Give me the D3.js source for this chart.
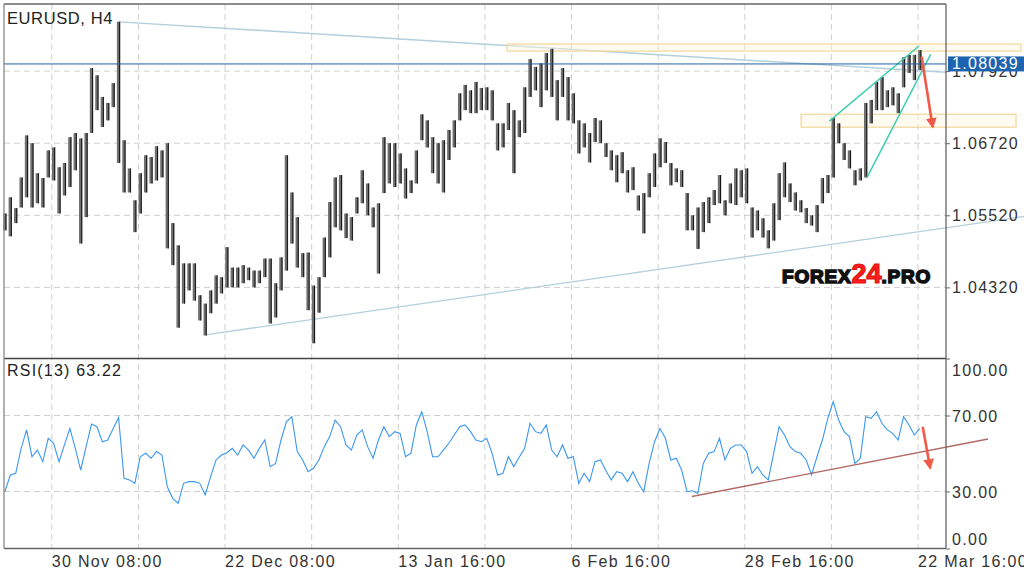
<!DOCTYPE html>
<html>
<head>
<meta charset="utf-8">
<script src="https://cdn.jsdelivr.net/npm/d3@7"></script>
<style>
  body { margin: 0; background: #fff; }
  text { font-family: "Liberation Sans", Arial, sans-serif; }
</style>
</head>
<body>
<div id="chart"></div>
<script>
// EURUSD H4 - one stored bar every 3 H4 bars (12h)
const barStep = 3;

const highs = [
  1.0555, 1.0582, 1.0564, 1.0615, 1.0685, 1.0672, 1.0622, 1.0614, 1.0660, 1.0665,
  1.0632, 1.0639, 1.0682, 1.0689, 1.0680, 1.0689, 1.0797, 1.0785, 1.0749, 1.0739,
  1.0772, 1.0874, 1.0677, 1.0630, 1.0577, 1.0622, 1.0652, 1.0649, 1.0667, 1.0660,
  1.0672, 1.0539, 1.0502, 1.0472, 1.0472, 1.0472, 1.0419, 1.0405, 1.0427, 1.0452,
  1.0449, 1.0499, 1.0465, 1.0465, 1.0469, 1.0465, 1.0460, 1.0460, 1.0480, 1.0480,
  1.0439, 1.0482, 1.0652, 1.0590, 1.0549, 1.0489, 1.0490, 1.0435, 1.0449, 1.0515,
  1.0574, 1.0615, 1.0619, 1.0555, 1.0549, 1.0582, 1.0627, 1.0605, 1.0565, 1.0572,
  1.0682, 1.0672, 1.0672, 1.0655, 1.0630, 1.0610, 1.0660, 1.0720, 1.0710, 1.0682,
  1.0672, 1.0677, 1.0694, 1.0710, 1.0755, 1.0769, 1.0760, 1.0774, 1.0764, 1.0765,
  1.0760, 1.0705, 1.0705, 1.0739, 1.0727, 1.0710, 1.0765, 1.0812, 1.0799, 1.0805,
  1.0822, 1.0829, 1.0777, 1.0797, 1.0782, 1.0755, 1.0710, 1.0705, 1.0689, 1.0714,
  1.0710, 1.0672, 1.0660, 1.0652, 1.0657, 1.0627, 1.0632, 1.0585, 1.0589, 1.0622,
  1.0655, 1.0680, 1.0674, 1.0639, 1.0630, 1.0627, 1.0589, 1.0552, 1.0565, 1.0574,
  1.0582, 1.0594, 1.0619, 1.0577, 1.0605, 1.0630, 1.0627, 1.0630, 1.0565, 1.0560,
  1.0547, 1.0527, 1.0572, 1.0622, 1.0640, 1.0605, 1.0590, 1.0577, 1.0564, 1.0552,
  1.0569, 1.0614, 1.0619, 1.0714, 1.0705, 1.0672, 1.0660, 1.0627, 1.0630, 1.0739,
  1.0744, 1.0774, 1.0782, 1.0760, 1.0765, 1.0755, 1.0815, 1.0819, 1.0819, 1.0827
];

const lows = [
  1.0527, 1.0517, 1.0539, 1.0565, 1.0582, 1.0565, 1.0572, 1.0565, 1.0615, 1.0610,
  1.0555, 1.0585, 1.0599, 1.0627, 1.0505, 1.0549, 1.0689, 1.0727, 1.0699, 1.0710,
  1.0732, 1.0639, 1.0590, 1.0590, 1.0524, 1.0555, 1.0590, 1.0605, 1.0610, 1.0615,
  1.0497, 1.0469, 1.0365, 1.0405, 1.0427, 1.0410, 1.0377, 1.0352, 1.0389, 1.0405,
  1.0422, 1.0432, 1.0432, 1.0432, 1.0439, 1.0444, 1.0432, 1.0439, 1.0449, 1.0372,
  1.0382, 1.0427, 1.0460, 1.0505, 1.0465, 1.0449, 1.0394, 1.0339, 1.0390, 1.0449,
  1.0482, 1.0532, 1.0527, 1.0514, 1.0510, 1.0555, 1.0572, 1.0552, 1.0532, 1.0455,
  1.0589, 1.0605, 1.0599, 1.0605, 1.0580, 1.0589, 1.0605, 1.0677, 1.0665, 1.0622,
  1.0605, 1.0590, 1.0644, 1.0665, 1.0710, 1.0727, 1.0722, 1.0722, 1.0727, 1.0727,
  1.0710, 1.0660, 1.0665, 1.0694, 1.0622, 1.0682, 1.0689, 1.0749, 1.0760, 1.0732,
  1.0760, 1.0749, 1.0710, 1.0749, 1.0710, 1.0705, 1.0655, 1.0665, 1.0640, 1.0674,
  1.0672, 1.0649, 1.0627, 1.0607, 1.0622, 1.0590, 1.0594, 1.0560, 1.0522, 1.0582,
  1.0599, 1.0632, 1.0639, 1.0602, 1.0607, 1.0599, 1.0527, 1.0527, 1.0496, 1.0524,
  1.0539, 1.0569, 1.0572, 1.0552, 1.0572, 1.0569, 1.0582, 1.0572, 1.0515, 1.0527,
  1.0515, 1.0497, 1.0510, 1.0544, 1.0582, 1.0574, 1.0560, 1.0557, 1.0539, 1.0535,
  1.0524, 1.0572, 1.0589, 1.0615, 1.0672, 1.0644, 1.0630, 1.0602, 1.0610, 1.0615,
  1.0705, 1.0727, 1.0727, 1.0732, 1.0735, 1.0722, 1.0765, 1.0789, 1.0777, 1.0794
];

const rsiValues = [
  29.9, 38.7, 39.6, 52.7, 62.4, 48.3, 51.8, 45.7, 58.0, 55.4,
  45.7, 54.5, 63.2, 52.7, 41.3, 53.6, 65.5, 64.1, 56.2, 57.1,
  63.2, 69.0, 36.9, 36.1, 34.3, 48.3, 50.1, 47.5, 51.0, 49.2,
  32.5, 26.4, 23.8, 34.3, 35.2, 35.2, 34.3, 28.2, 37.8, 46.6,
  49.2, 50.4, 52.7, 49.2, 54.5, 51.8, 47.5, 52.7, 57.1, 43.1,
  44.8, 57.1, 66.7, 69.4, 51.0, 46.6, 40.4, 42.2, 46.6, 53.6,
  58.9, 67.6, 64.1, 54.5, 51.8, 59.7, 62.4, 53.6, 47.5, 57.1,
  64.1, 58.9, 61.5, 60.6, 48.3, 50.1, 65.0, 72.0, 61.5, 48.3,
  48.3, 51.8, 55.4, 59.7, 64.1, 65.0, 61.5, 57.1, 56.2, 58.0,
  50.1, 38.7, 39.6, 48.3, 43.1, 48.0, 52.7, 65.9, 61.5, 60.6,
  65.0, 51.8, 48.3, 54.5, 47.5, 48.3, 34.3, 39.6, 35.2, 45.7,
  46.6, 41.0, 36.1, 40.4, 39.6, 35.2, 40.4, 34.3, 29.9, 44.8,
  56.2, 63.2, 58.0, 46.6, 47.5, 41.3, 29.9, 30.4, 29.0, 44.8,
  50.1, 51.0, 58.0, 46.6, 52.7, 54.5, 54.5, 51.0, 39.6, 43.1,
  38.7, 36.1, 50.1, 64.1, 59.7, 53.6, 51.0, 50.1, 46.6, 38.7,
  48.3, 57.1, 68.5, 77.3, 67.6, 61.5, 58.9, 44.8, 47.5, 69.4,
  68.5, 72.0, 65.9, 62.4, 60.6, 57.1, 69.4, 65.0, 59.7, 63.2
];

// time axis (H4 bar index) and tick labels
const gridBars = [26, 74, 122, 170, 218, 266, 314, 362, 410, 458, 506];
const labelBars = [26, 122, 218, 314, 410, 506];
const labelTexts = ["30 Nov 08:00", "22 Dec 08:00", "13 Jan 16:00", "6 Feb 16:00", "28 Feb 16:00", "22 Mar 16:00"];

const priceTicks = [1.0792, 1.0672, 1.0552, 1.0432];
const rsiTicks = [100, 70, 30, 0];
const rsiGrid = [70, 30];

const lastPrice = 1.08039;
const rsiLabel = "RSI(13) 63.22";
const title = "EURUSD, H4";

// drawn objects (bar index, price)
const blueTrends = [
  [[63.2, 1.0874], [521.5, 1.0790]],
  [[111.2, 1.0353], [564.7, 1.0550]]
];
const wedgeLines = [
  [[456.8, 1.07087], [506.5, 1.08337]],
  [[477.6, 1.06142], [513.0, 1.08198]]
];
const zones = [
  { b0: 278.2, b1: 563.0, top: 1.08370, bottom: 1.08253 },
  { b0: 441.2, b1: 560.3, top: 1.07203, bottom: 1.06986 }
];
const priceArrow = [[508.0, 1.08158], [514.1, 1.06995]];
const rsiTrend = [[380.7, 27.4], [544.8, 57.6]];
const rsiArrow = [[508.6, 64.1], [512.7, 42.5]];

// layout
const W = 1024, H = 577;
const left = 4, right = 946, mainTop = 4, mainBottom = 358.5, rsiTop = 358.5, rsiBottom = 548.5;

const svg = d3.select("#chart").append("svg")
  .attr("width", W).attr("height", H);

const defs = svg.append("defs");
defs.append("marker")
  .attr("id", "head")
  .attr("viewBox", "0 0 10 10")
  .attr("refX", 8).attr("refY", 5)
  .attr("markerWidth", 4.2).attr("markerHeight", 4.2)
  .attr("orient", "auto")
  .append("path").attr("d", "M0,0 L10,5 L0,10 Z").attr("fill", "#f25a48");

const x = d3.scaleLinear().domain([-0.5, 521.5]).range([left, right]);
const y = d3.scaleLinear().domain([1.031367, 1.090367]).range([mainBottom, mainTop]);
const yr = d3.scaleLinear().domain([0, 100]).range([rsiBottom, rsiTop]);

// grid
const grid = svg.append("g").attr("stroke", "#cfcfcf").attr("stroke-dasharray", "6,4").attr("stroke-width", 1);
grid.selectAll(".vg").data(gridBars).enter().append("line")
  .attr("x1", d => x(d)).attr("x2", d => x(d))
  .attr("y1", mainTop).attr("y2", rsiBottom);
grid.selectAll(".hg").data(priceTicks).enter().append("line")
  .attr("x1", left).attr("x2", right)
  .attr("y1", d => y(d)).attr("y2", d => y(d));
grid.selectAll(".rg").data(rsiGrid).enter().append("line")
  .attr("x1", left).attr("x2", right)
  .attr("y1", d => yr(d)).attr("y2", d => yr(d));

// blue trend lines under bars
svg.append("g").selectAll("line").data(blueTrends).enter().append("line")
  .attr("x1", d => x(d[0][0])).attr("y1", d => y(d[0][1]))
  .attr("x2", d => x(d[1][0])).attr("y2", d => y(d[1][1]))
  .attr("stroke", "#b3cfdc").attr("stroke-width", 1.4);

// zones
svg.append("g").selectAll("rect").data(zones).enter().append("rect")
  .attr("x", d => x(d.b0)).attr("width", d => x(d.b1) - x(d.b0))
  .attr("y", d => y(d.top)).attr("height", d => y(d.bottom) - y(d.top))
  .attr("fill", "#fff6e0").attr("fill-opacity", 0.45)
  .attr("stroke", "#f3d9a0").attr("stroke-width", 1.3);

// bars : grey body + dark wick
const bars = svg.append("g");
bars.selectAll("line").data(highs).enter().append("line")
  .attr("x1", (d, i) => x(i * barStep)).attr("x2", (d, i) => x(i * barStep))
  .attr("y1", d => y(d)).attr("y2", (d, i) => y(lows[i]))
  .attr("stroke", "#707070").attr("stroke-width", 3.4);
bars.selectAll(".wick").data(highs).enter().append("line")
  .attr("x1", (d, i) => x(i * barStep) + 1).attr("x2", (d, i) => x(i * barStep) + 1)
  .attr("y1", d => y(d)).attr("y2", (d, i) => y(lows[i]))
  .attr("stroke", "#151515").attr("stroke-width", 1);

// wedge
svg.append("g").selectAll("line").data(wedgeLines).enter().append("line")
  .attr("x1", d => x(d[0][0])).attr("y1", d => y(d[0][1]))
  .attr("x2", d => x(d[1][0])).attr("y2", d => y(d[1][1]))
  .attr("stroke", "#3fcdb4").attr("stroke-width", 1.5);

// last price line
svg.append("line")
  .attr("x1", left).attr("x2", right)
  .attr("y1", y(lastPrice)).attr("y2", y(lastPrice))
  .attr("stroke", "#22609f").attr("stroke-width", 1);

// arrows
svg.append("line")
  .attr("x1", x(priceArrow[0][0])).attr("y1", y(priceArrow[0][1]))
  .attr("x2", x(priceArrow[1][0])).attr("y2", y(priceArrow[1][1]))
  .attr("stroke", "#f25a48").attr("stroke-width", 2.6).attr("marker-end", "url(#head)");

// RSI
const rsiLine = d3.line()
  .x((d, i) => x(i * barStep))
  .y(d => yr(d));
svg.append("path").datum(rsiValues)
  .attr("d", rsiLine)
  .attr("fill", "none").attr("stroke", "#3a97f2").attr("stroke-width", 1.1);

svg.append("line")
  .attr("x1", x(rsiTrend[0][0])).attr("y1", yr(rsiTrend[0][1]))
  .attr("x2", x(rsiTrend[1][0])).attr("y2", yr(rsiTrend[1][1]))
  .attr("stroke", "#b26a66").attr("stroke-width", 1.4);

svg.append("line")
  .attr("x1", x(rsiArrow[0][0])).attr("y1", yr(rsiArrow[0][1]))
  .attr("x2", x(rsiArrow[1][0])).attr("y2", yr(rsiArrow[1][1]))
  .attr("stroke", "#f25a48").attr("stroke-width", 2.6).attr("marker-end", "url(#head)");

// frames
const frame = svg.append("g").attr("stroke", "#666").attr("stroke-width", 1.3).attr("fill", "none");
frame.append("line").attr("x1", left).attr("x2", right).attr("y1", mainTop).attr("y2", mainTop);
frame.append("line").attr("x1", left).attr("x2", right).attr("y1", mainBottom).attr("y2", mainBottom).attr("stroke", "#444").attr("stroke-width", 1.6);
frame.append("line").attr("x1", left).attr("x2", right).attr("y1", rsiBottom).attr("y2", rsiBottom);
frame.append("line").attr("x1", left).attr("x2", left).attr("y1", mainTop).attr("y2", rsiBottom).attr("stroke", "#888");
frame.append("line").attr("x1", right).attr("x2", right).attr("y1", mainTop).attr("y2", rsiBottom);

// right axes
const pAxis = svg.append("g").attr("transform", `translate(${right},0)`)
  .call(d3.axisRight(y).tickValues(priceTicks).tickSize(4).tickPadding(2).tickFormat(d3.format(".5f")));
const rAxis = svg.append("g").attr("transform", `translate(${right},0)`)
  .call(d3.axisRight(yr).tickValues(rsiTicks).tickSize(4).tickPadding(2).tickFormat(d3.format(".2f")));
[pAxis, rAxis].forEach(a => {
  a.select(".domain").remove();
  a.selectAll(".tick line").attr("stroke", "#666");
  a.selectAll(".tick text")
    .attr("dy", null)
    .style("font-family", "'Liberation Sans', Arial, sans-serif")
    .style("font-size", "16px").style("fill", "#333")
    .style("letter-spacing", "1.3px").style("dominant-baseline", "central");
});
// push the end labels inside the pane
rAxis.selectAll(".tick text").attr("y", d => d === 100 ? 11 : (d === 0 ? -10 : 0));

// last price tag (covers the 1.07920 label like the original)
svg.append("rect")
  .attr("x", right + 2).attr("y", y(lastPrice) - 7.5)
  .attr("width", W - right - 2).attr("height", 15)
  .attr("fill", "#1d63b0");
svg.append("text")
  .attr("x", right + 6).attr("y", y(lastPrice))
  .attr("dominant-baseline", "central")
  .attr("font-size", "16px").attr("letter-spacing", "1.3px")
  .attr("fill", "#fff")
  .text(d3.format(".5f")(lastPrice));

// bottom time labels
svg.append("g").selectAll("text").data(labelBars).enter().append("text")
  .attr("x", d => x(d)).attr("y", 561)
  .attr("dominant-baseline", "central")
  .attr("font-size", "16px").attr("letter-spacing", "1.3px").attr("fill", "#333")
  .text((d, i) => labelTexts[i]);

// titles
svg.append("text").attr("x", 7).attr("y", 17.5).attr("dominant-baseline", "central")
  .attr("font-size", "16.5px").attr("fill", "#222").attr("letter-spacing", "0.6px").text(title);
svg.append("text").attr("x", 7).attr("y", 370).attr("dominant-baseline", "central")
  .attr("font-size", "16px").attr("fill", "#222").attr("letter-spacing", "1.2px").text(rsiLabel);

// watermark
const wm = svg.append("text").attr("x", 782).attr("y", 282.5)
  .attr("font-family", "'DejaVu Sans', sans-serif").attr("font-weight", "bold");
wm.append("tspan").attr("font-size", "19px").attr("letter-spacing", "0.8px")
  .attr("fill", "#111").attr("stroke", "#111").attr("stroke-width", 1.6).text("FOREX");
wm.append("tspan").attr("font-size", "27px")
  .attr("fill", "#ff1e1e").attr("stroke", "#e01010").attr("stroke-width", 1.2).text("24");
wm.append("tspan").attr("font-size", "19px").attr("letter-spacing", "0.8px")
  .attr("fill", "#111").attr("stroke", "#111").attr("stroke-width", 1.6).text(".PRO");
</script>
</body>
</html>
